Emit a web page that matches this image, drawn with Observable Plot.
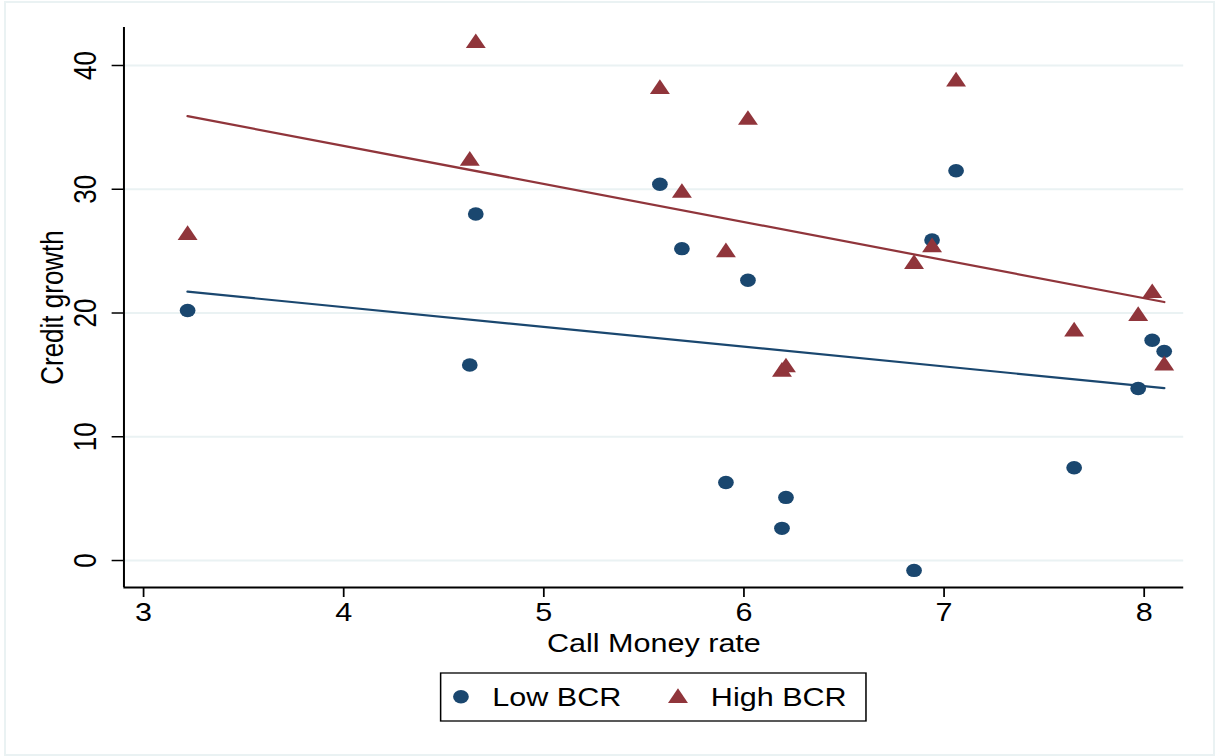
<!DOCTYPE html>
<html><head><meta charset="utf-8">
<script src="https://cdn.jsdelivr.net/npm/d3@7"></script>
<script src="https://cdn.jsdelivr.net/npm/@observablehq/plot@0.6"></script>
<style>
html,body{margin:0;padding:0;background:#fff;}
#wrap{position:relative;width:1222px;height:756px;overflow:hidden;background:#fff;}
#frame{position:absolute;left:4px;top:1px;width:1211px;height:755px;border:2px solid #eaf2f3;box-sizing:border-box;pointer-events:none;}
#chart{position:absolute;left:0;top:0;}
#legend{position:absolute;left:0;top:668px;}
</style></head><body>
<div id="wrap"><div id="frame"></div><div id="chart"></div><div id="legend"></div></div>
<script>
// ---- data ----
const seriesNames = ["Low BCR", "High BCR"];
const seriesColors = ["#1a476f", "#90353b"];
const callMoney = [3.22, 4.63, 4.66, 5.58, 5.69, 5.91, 6.02, 6.19, 6.21, 6.85, 6.94, 7.06, 7.65, 7.97, 8.04, 8.10];
const lowBCR    = [20.2, 15.8, 28.0, 30.4, 25.2, 6.3, 22.65, 2.6, 5.1, -0.8, 25.9, 31.5, 7.5, 13.9, 17.8, 16.9];
const highBCR   = [26.3, 32.3, 41.8, 38.1, 29.7, 24.9, 35.6, 15.25, 15.6, 23.95, 25.3, 38.7, 18.5, 19.75, 21.6, 15.75];
const xTicks = [3, 4, 5, 6, 7, 8];
const yTicks = [0, 10, 20, 30, 40];
const xLabel = "Call Money rate";
const yLabel = "Credit growth";
const xDomain = [2.902, 8.198];
const yDomain = [-2.18, 43.07];

const lowRows = callMoney.map((x, i) => ({x, y: lowBCR[i], s: seriesNames[0]}));
const highRows = callMoney.map((x, i) => ({x, y: highBCR[i], s: seriesNames[1]}));
const rows = lowRows.concat(highRows);

const W = 1040, H = 668, OUTW = 1222;
const font = "'Liberation Sans', Arial, Helvetica, sans-serif";
const intFmt = d3.format("d");

const chart = Plot.plot({
  width: W, height: H,
  marginLeft: 105, marginRight: 33, marginTop: 27, marginBottom: H - 587,
  style: {fontFamily: font, fontSize: "26px", color: "#000", background: "transparent"},
  x: {domain: xDomain},
  y: {domain: yDomain},
  color: {domain: seriesNames, range: seriesColors},
  marks: [
    Plot.gridY(yTicks, {stroke: "#eaf2f3", strokeOpacity: 1, strokeWidth: 2}),
    Plot.ruleX([xDomain[0]], {stroke: "#000", strokeWidth: 1.7}),
    Plot.ruleY([yDomain[0]], {stroke: "#000", strokeWidth: 2}),
    Plot.axisX({ticks: xTicks, tickFormat: intFmt, tickSize: 10, tickPadding: 5, strokeWidth: 1.5,
      label: xLabel, labelAnchor: "center", labelArrow: "none", labelOffset: 64}),
    Plot.axisY({ticks: yTicks, tickFormat: intFmt, tickSize: 10, tickPadding: 22, tickRotate: -90,
      textAnchor: "middle", lineAnchor: "middle", strokeWidth: 1.5,
      label: yLabel, labelAnchor: "center", labelArrow: "none", labelOffset: 70.5}),
    Plot.dot(lowRows, {x: "x", y: "y", fill: "s", symbol: "circle", r: 6.7}),
    Plot.dot(highRows, {x: "x", y: "y", fill: "s", symbol: "triangle", r: 6.3}),
    Plot.linearRegressionY(rows, {x: "x", y: "y", stroke: "s", ci: 0, strokeWidth: 2.2})
  ]
});
chart.setAttribute("width", OUTW);
chart.setAttribute("preserveAspectRatio", "none");
chart.style.width = OUTW + "px";
chart.style.height = H + "px";
chart.style.maxWidth = "none";
document.getElementById("chart").appendChild(chart);

// ---- legend (below the plot) ----
const LH = 756 - H;
const off = 662 - H;
const L = d3.select("#legend").append("svg")
  .attr("width", OUTW).attr("height", LH)
  .attr("viewBox", `0 0 ${W} ${LH}`)
  .attr("preserveAspectRatio", "none")
  .style("display", "block");
L.append("rect").attr("x", 375).attr("y", 11 + off).attr("width", 362).attr("height", 48)
  .attr("fill", "#fff").attr("stroke", "#000").attr("stroke-width", 1.3);
const items = [
  {name: seriesNames[0], color: seriesColors[0], sym: d3.symbolCircle, size: Math.PI * 6.7 * 6.7, cx: 392.3, cy: 34.7, tx: 419},
  {name: seriesNames[1], color: seriesColors[1], sym: d3.symbolTriangle, size: Math.PI * 6.3 * 6.3, cx: 577, cy: 36.1, tx: 605}
];
const g = L.selectAll("g.item").data(items).join("g").attr("class", "item");
g.append("path")
  .attr("transform", d => `translate(${d.cx},${d.cy + off})`)
  .attr("d", d => d3.symbol(d.sym, d.size)())
  .attr("fill", d => d.color);
g.append("text")
  .attr("x", d => d.tx).attr("y", 44 + off)
  .attr("font-family", font).attr("font-size", 26).attr("fill", "#000")
  .text(d => d.name);
</script>
</body></html>
